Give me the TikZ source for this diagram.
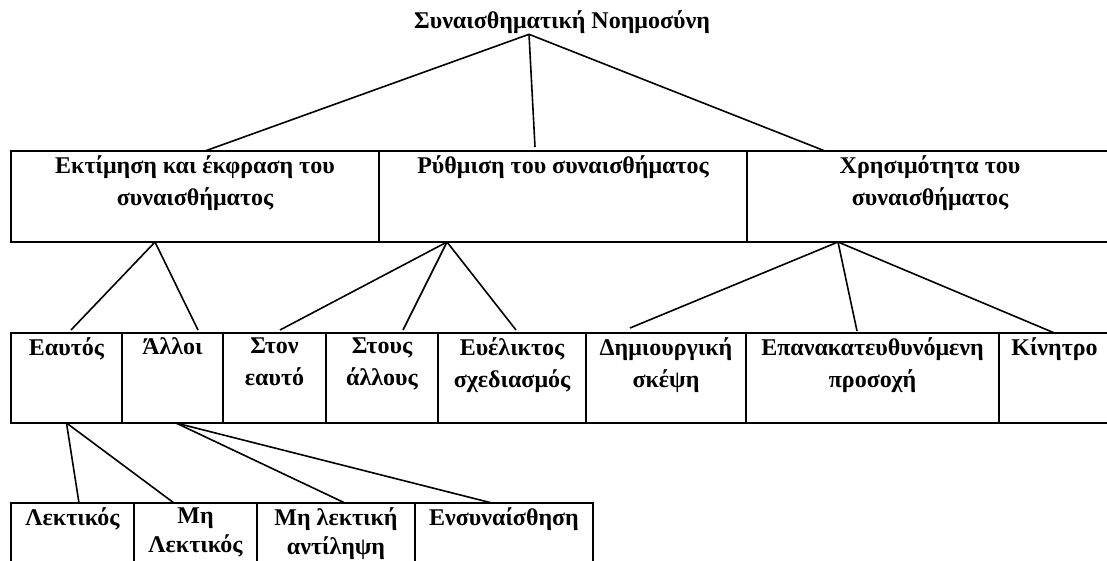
\documentclass[tikz,border=0pt]{standalone}
\usepackage{fontspec}
\setmainfont{Liberation Serif}
\usetikzlibrary{positioning}

\begin{document}
\begin{tikzpicture}[
    x=1pt, y=-1pt,
    every node/.style={font=\fontsize{24}{32}\selectfont\bfseries},
    cell/.style={draw, line width=2.2pt, outer sep=0pt, inner sep=0pt, anchor=north west},
    upper/.style={cell, minimum height=91pt},
    middle/.style={cell, minimum height=90pt},
    lower/.style={cell, minimum height=80pt},
    txt/.style={anchor=north, align=center, inner sep=4.5pt},
    lowtxt/.style={txt, font=\fontsize{24}{29}\selectfont\bfseries},
    link/.style={line width=1.6pt}
    ]
    \useasboundingbox (0,0) rectangle (1107,560);
    \clip (0,0) rectangle (1107,560);

    % title
    \node[anchor=base, inner sep=0pt] (title) at (562,28) {Συναισθηματική Νοημοσύνη};

    % first level
    \node[upper, minimum width=368pt, label={[txt]north:{Εκτίμηση και έκφραση του\\συναισθήματος}}] (emo1) at (11,151) {};
    \node[upper, minimum width=368pt, right=0pt of emo1, label={[txt]north:{Ρύθμιση του συναισθήματος}}] (emo2) {};
    \node[upper, minimum width=366pt, right=0pt of emo2, label={[txt]north:{Χρησιμότητα του\\συναισθήματος}}] (emo3) {};

    % second level
    \node[middle, minimum width=111pt, label={[txt]north:{Εαυτός}}] (self) at (11,333) {};
    \node[middle, minimum width=101pt, right=0pt of self, label={[txt]north:{Άλλοι}}] (others) {};
    \node[middle, minimum width=103pt, right=0pt of others, label={[txt]north:{Στον\\εαυτό}}] (toself) {};
    \node[middle, minimum width=112pt, right=0pt of toself, label={[txt]north:{Στους\\άλλους}}] (toothers) {};
    \node[middle, minimum width=148pt, right=0pt of toothers, label={[txt]north:{Ευέλικτος\\σχεδιασμός}}] (flexible) {};
    \node[middle, minimum width=160pt, right=0pt of flexible, label={[txt]north:{Δημιουργική\\σκέψη}}] (creative) {};
    \node[middle, minimum width=253pt, right=0pt of creative, label={[txt]north:{Επανακατευθυνόμενη\\προσοχή}}] (attention) {};
    \node[middle, minimum width=111pt, right=0pt of attention, label={[txt]north:{Κίνητρο}}] (motive) {};

    % third level
    \node[lower, minimum width=123pt, label={[lowtxt]north:{Λεκτικός}}] (verbal) at (11,503) {};
    \node[lower, minimum width=123pt, right=0pt of verbal, label={[lowtxt]north:{Μη\\Λεκτικός}}] (nonverbal) {};
    \node[lower, minimum width=158pt, right=0pt of nonverbal, label={[lowtxt]north:{Μη λεκτική\\αντίληψη}}] (perception) {};
    \node[lower, minimum width=178pt, right=0pt of perception, label={[lowtxt]north:{Ενσυναίσθηση}}] (empathy) {};

    % connectors
    \coordinate (apex) at ([xshift=-33pt, yshift=-1pt]title.south);
    \draw[link] (apex) -- ([xshift=10pt]emo1.north);
    \draw[link] (apex) -- ([xshift=-28pt, yshift=4pt]emo2.north);
    \draw[link] (apex) -- ([xshift=-105pt]emo3.north);

    \draw[link] ([xshift=-40pt]emo1.south) -- ([xshift=4.5pt, yshift=3pt]self.north);
    \draw[link] ([xshift=-40pt]emo1.south) -- ([xshift=25.5pt, yshift=3pt]others.north);

    \draw[link] ([xshift=-116pt]emo2.south) -- ([xshift=5.5pt, yshift=3pt]toself.north);
    \draw[link] ([xshift=-116pt]emo2.south) -- ([xshift=21pt, yshift=3pt]toothers.north);
    \draw[link] ([xshift=-116pt]emo2.south) -- ([xshift=4pt, yshift=3pt]flexible.north);

    \draw[link] ([xshift=-92pt]emo3.south) -- ([xshift=-36pt, yshift=5pt]creative.north);
    \draw[link] ([xshift=-92pt]emo3.south) -- ([xshift=-15.5pt, yshift=2pt]attention.north);
    \draw[link] ([xshift=-92pt]emo3.south) -- (motive.north);

    \draw[link] (self.south) -- ([xshift=6.5pt]verbal.north);
    \draw[link] (self.south) -- ([xshift=-21.5pt]nonverbal.north);

    \draw[link] ([xshift=3.5pt]others.south) -- ([xshift=9pt]perception.north);
    \draw[link] ([xshift=3.5pt]others.south) -- ([xshift=-12pt]empathy.north);
\end{tikzpicture}
\end{document}
